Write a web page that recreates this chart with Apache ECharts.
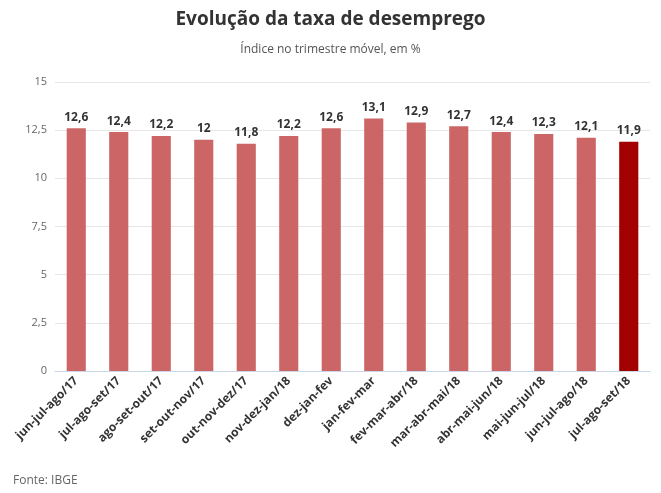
<!DOCTYPE html>
<html>
<head>
<meta charset="utf-8">
<script src="https://cdn.jsdelivr.net/npm/echarts@6/dist/echarts.min.js"></script>
<style>html,body{margin:0;padding:0;background:#fff}#main{width:661px;height:493px}</style>
</head>
<body>
<div id="main"></div>
<script>
// trimestres móveis
var categories = ['jun-jul-ago/17', 'jul-ago-set/17', 'ago-set-out/17', 'set-out-nov/17', 'out-nov-dez/17',
	'nov-dez-jan/18', 'dez-jan-fev', 'jan-fev-mar', 'fev-mar-abr/18', 'mar-abr-mai/18',
	'abr-mai-jun/18', 'mai-jun-jul/18', 'jun-jul-ago/18', 'jul-ago-set/18'];
var taxa = [12.6, 12.4, 12.2, 12.0, 11.8, 12.2, 12.6, 13.1, 12.9, 12.7, 12.4, 12.3, 12.1, 11.9];

var font = 'Open Sans';
var myChart = echarts.init(document.getElementById('main'));
myChart.setOption({
	textStyle: { fontFamily: font },
	title: [{
		text: 'Evolução da taxa de desemprego',
		left: 'center',
		top: 5,
		textStyle: { fontSize: 19, fontWeight: 'bold', color: '#333', fontFamily: font }
	}, {
		text: 'Índice no trimestre móvel, em %',
		left: 'center',
		top: 39,
		textStyle: { fontSize: 12, fontWeight: 'normal', color: '#555', fontFamily: font }
	}, {
		text: 'Fonte: IBGE',
		left: 8,
		top: 470,
		textStyle: { fontSize: 12, fontWeight: 'normal', color: '#666', fontFamily: font }
	}],
	grid: { left: 55, right: 11, top: 82, bottom: 122 },
	xAxis: {
		type: 'category',
		data: categories,
		axisTick: { show: false },
		axisLine: { lineStyle: { color: '#ccd6eb' } },
		axisLabel: { rotate: 45, color: '#333', fontSize: 12, fontWeight: 'bold', interval: 0, margin: 8 }
	},
	yAxis: {
		type: 'value',
		min: 0,
		max: 15,
		interval: 2.5,
		axisLabel: {
			color: '#666', fontSize: 11,
			formatter: function (v) { return String(v).replace('.', ','); }
		},
		splitLine: { lineStyle: { color: '#e6e6e6' } }
	},
	series: [{
		type: 'bar',
		barWidth: '45%',
		data: taxa.map(function (v, i) {
			return { value: v, itemStyle: { color: i == taxa.length - 1 ? '#a30000' : '#cc6666' } };
		}),
		label: {
			show: true,
			position: 'top',
			color: '#333',
			fontSize: 12,
			fontWeight: 'bold',
			formatter: function (p) { return String(p.value).replace('.', ','); }
		}
	}]
});
</script>
</body>
</html>
